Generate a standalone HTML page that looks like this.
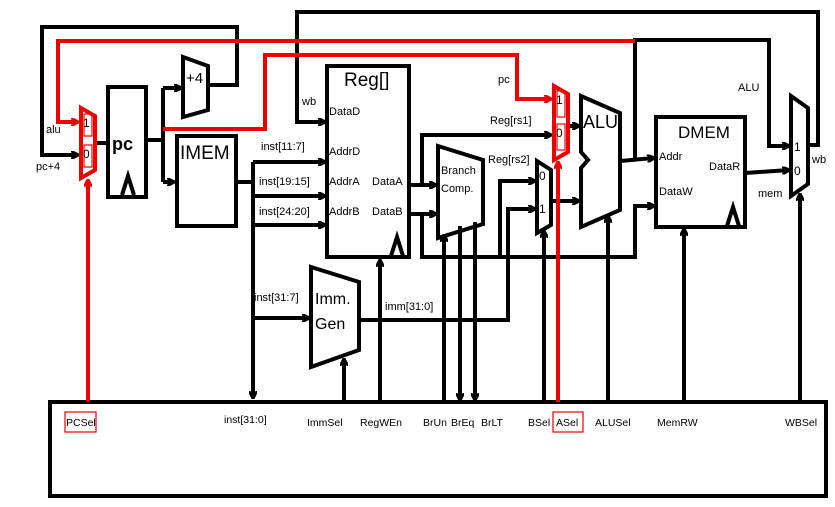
<!DOCTYPE html>
<html><head><style>
body{margin:0;background:#fff;}
svg{display:block;}
text{font-family:"Liberation Sans",sans-serif;fill:#000;}
</style></head><body>
<svg width="835" height="507" viewBox="0 0 835 507" xmlns="http://www.w3.org/2000/svg">
<defs>
<marker id="ak" markerWidth="8" markerHeight="8" refX="7" refY="4" orient="auto" markerUnits="userSpaceOnUse"><path d="M0,0 L8,4 L0,8" fill="none" stroke="#000" stroke-width="2.5"/></marker>
<marker id="ar" markerWidth="8" markerHeight="8" refX="7" refY="4" orient="auto" markerUnits="userSpaceOnUse"><path d="M0,0 L8,4 L0,8" fill="none" stroke="#e00" stroke-width="2.5"/></marker>
</defs>
<g fill="none" stroke="#000" stroke-width="4">
<polyline points="208,85 237,85 237,27 42,27 42,155 78,155" marker-end="url(#ak)"/>
<polyline points="95,143 108,143"/>
<polyline points="146,140 163,140"/>
<polyline points="163,88 163,182"/>
<polyline points="163,88 181,88" marker-end="url(#ak)"/>
<polyline points="163,182 174,182" marker-end="url(#ak)"/>
<rect x="108" y="87" width="38" height="110"/>
<polygon points="183,57 208,66 208,110 183,117"/>
<rect x="177" y="136" width="59" height="90"/>
<rect x="327" y="66" width="82" height="191"/>
<polygon points="438,146 483,160 483,224 438,238"/>
<polygon points="581,96 620,113 620,210 581,227 581,168 588,160 581,152"/>
<rect x="656" y="117" width="89" height="110"/>
<polygon points="791,96 808,108 808,184 791,196"/>
<polygon points="537,161 551,170 551,225 537,233"/>
<polygon points="311,267 359,282 359,350 311,367"/>
<rect x="50" y="402" width="776" height="94"/>
<polyline points="122,195 128,176 134,195"/>
<polyline points="391,256 397,237 403,256"/>
<polyline points="727,226 733,207 739,226"/>
<polyline points="236,182 253,182"/>
<polyline points="253,162 253,398" marker-end="url(#ak)"/>
<polyline points="253,162 325,162" marker-end="url(#ak)"/>
<polyline points="253,196 325,196" marker-end="url(#ak)"/>
<polyline points="253,225 325,225" marker-end="url(#ak)"/>
<polyline points="253,318 309,318" marker-end="url(#ak)"/>
<polyline points="808,145 818,145 818,12 297,12 297,122 325,122" marker-end="url(#ak)"/>
<polyline points="409,185 436,185" marker-end="url(#ak)"/>
<polyline points="422,185 422,135 551,135" marker-end="url(#ak)"/>
<polyline points="409,214 436,214" marker-end="url(#ak)"/>
<polyline points="422,214 422,257 635,257 635,206 654,206" marker-end="url(#ak)"/>
<polyline points="500,257 500,181 535,181" marker-end="url(#ak)"/>
<polyline points="359,320 508,320 508,209 535,209" marker-end="url(#ak)"/>
<polyline points="568,126 579,126" marker-end="url(#ak)"/>
<polyline points="551,201 579,201" marker-end="url(#ak)"/>
<polyline points="620,161 654,158" marker-end="url(#ak)"/>
<polyline points="635,161 635,40 769,40 769,146 789,146" marker-end="url(#ak)"/>
<polyline points="745,173 789,170" marker-end="url(#ak)"/>
<polyline points="344,402 344,359" marker-end="url(#ak)"/>
<polyline points="380,402 380,260" marker-end="url(#ak)"/>
<polyline points="444,402 444,235" marker-end="url(#ak)"/>
<polyline points="460,226 460,400" marker-end="url(#ak)"/>
<polyline points="475,222 475,400" marker-end="url(#ak)"/>
<polyline points="544,402 544,231" marker-end="url(#ak)"/>
<polyline points="608,402 608,216" marker-end="url(#ak)"/>
<polyline points="684,402 684,229" marker-end="url(#ak)"/>
<polyline points="800,402 800,194" marker-end="url(#ak)"/>
</g>
<g fill="none" stroke="#e00" stroke-width="4">
<polyline points="635,41 58,41 58,122 78,122" marker-end="url(#ar)"/>
<polyline points="163,129 265,129 265,55 517,55 517,99 551,99" marker-end="url(#ar)"/>
<polygon points="81,108 95,116 95,170 81,178"/>
<polygon points="554,86 568,94 568,152 554,160"/>
<polyline points="88,402 88,180" marker-end="url(#ar)"/>
<polyline points="558,402 558,162" marker-end="url(#ar)"/>
</g>
<g fill="none" stroke="#e00" stroke-width="1.2">
<rect x="84" y="114" width="8" height="22"/>
<rect x="84" y="145" width="8" height="22"/>
<rect x="557" y="91" width="8" height="26"/>
<rect x="557" y="124" width="8" height="26"/>
<rect x="65" y="412" width="31" height="20"/>
<rect x="553" y="412" width="30" height="20"/>
</g>
<g font-size="12">
<text x="83" y="127">1</text><text x="83" y="158">0</text>
<text x="556" y="104">1</text><text x="556" y="137">0</text>
<text x="539" y="180">0</text><text x="539" y="213">1</text>
<text x="794" y="151">1</text><text x="794" y="175">0</text>
</g>
<g font-size="11">
<text x="46" y="133">alu</text><text x="36" y="170">pc+4</text>
<text x="302" y="105">wb</text><text x="498" y="83">pc</text>
<text x="490" y="124">Reg[rs1]</text><text x="488" y="163">Reg[rs2]</text>
<text x="738" y="91">ALU</text><text x="812" y="163">wb</text><text x="758" y="197">mem</text>
<text x="261" y="150">inst[11:7]</text><text x="259" y="185">inst[19:15]</text><text x="259" y="215">inst[24:20]</text>
<text x="254" y="301">inst[31:7]</text><text x="385" y="310">imm[31:0]</text>
<text x="329" y="115">DataD</text><text x="329" y="155">AddrD</text><text x="329" y="185">AddrA</text><text x="329" y="215">AddrB</text>
<text x="372" y="185">DataA</text><text x="372" y="215">DataB</text>
<text x="659" y="160">Addr</text><text x="659" y="195">DataW</text><text x="709" y="170">DataR</text>
<text x="441" y="174">Branch</text><text x="441" y="192">Comp.</text>
</g>
<g font-size="10.5">
<text x="66" y="426">PCSel</text><text x="224" y="423">inst[31:0]</text><text x="307" y="426">ImmSel</text>
<text x="360" y="426">RegWEn</text><text x="423" y="426">BrUn</text><text x="451" y="426">BrEq</text><text x="481" y="426">BrLT</text>
<text x="528" y="426">BSel</text><text x="556" y="426">ASel</text><text x="595" y="426">ALUSel</text>
<text x="657" y="426">MemRW</text><text x="785" y="426">WBSel</text>
</g>
<text x="344" y="86" font-size="19">Reg[]</text>
<text x="180" y="159" font-size="19">IMEM</text>
<text x="678" y="138" font-size="17">DMEM</text>
<text x="583" y="128" font-size="18">ALU</text>
<text x="186" y="83" font-size="15">+4</text>
<text x="112" y="150" font-size="18" font-family="Liberation Serif" font-weight="bold">pc</text>
<text x="315" y="304" font-size="16">Imm.</text><text x="315" y="329" font-size="16">Gen</text>
</svg>
</body></html>
